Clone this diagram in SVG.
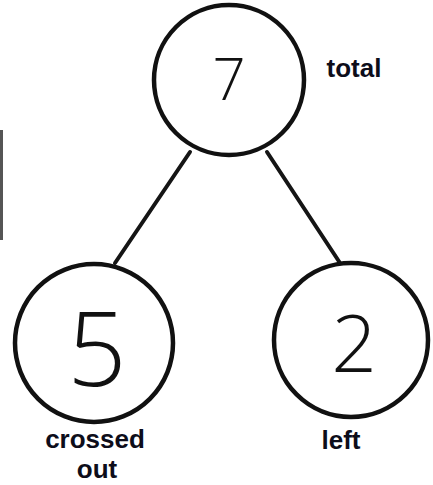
<svg xmlns="http://www.w3.org/2000/svg" width="433" height="485" viewBox="0 0 433 485">
<style>
.c{fill:#fff;stroke:#111;stroke-width:4.5}
.e{stroke:#151515;stroke-width:4;stroke-linecap:round;fill:none}
.n{font-family:"Open Sans","DejaVu Sans",sans-serif;font-weight:300;fill:#111;text-anchor:middle}
.l{font-family:"Liberation Sans",Arial,sans-serif;font-weight:bold;font-size:26px;fill:#0d0d1a;text-anchor:middle}
</style>
<rect width="433" height="485" fill="#fff"/>
<path d="M1.5 130 L1.5 240" stroke="#555" stroke-width="3" fill="none"/>
<g id="edges">
<line class="e" x1="190" y1="152" x2="115" y2="263"/>
<line class="e" x1="267" y1="152" x2="340" y2="263"/>
</g>
<g id="total">
<circle class="c" cx="229" cy="80" r="75"/>
<text class="n" x="229" y="100" font-size="58">7</text>
<text class="l" x="354" y="77">total</text>
</g>
<g id="crossed">
<circle class="c" cx="94" cy="343" r="79"/>
<text class="n" x="97" y="386" font-size="104">5</text>
<text class="l" x="95" y="448">crossed</text>
<text class="l" x="97" y="478">out</text>
</g>
<g id="left">
<circle class="c" cx="351" cy="340" r="77"/>
<text class="n" x="354" y="372" font-size="80">2</text>
<text class="l" x="341" y="449">left</text>
</g>
</svg>
